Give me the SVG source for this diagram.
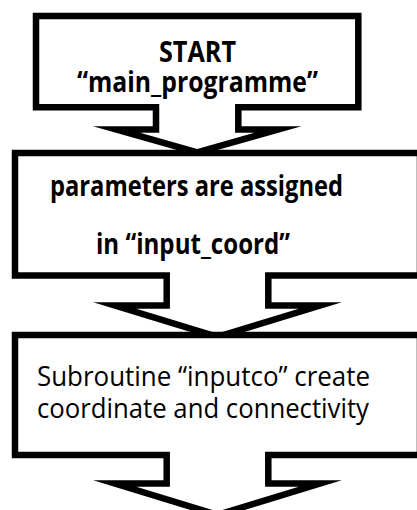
<svg xmlns="http://www.w3.org/2000/svg" width="417" height="510" viewBox="0 0 417 510">
  <style>
    .callout { fill: #ffffff; stroke: #000000; stroke-width: 6.5; stroke-linejoin: miter; stroke-miterlimit: 30; }
    .bold { font-family: "Open Sans", "Liberation Sans", sans-serif; font-weight: bold; font-size: 29px; fill: #000000; }
    .plain { font-family: "Open Sans", "Liberation Sans", sans-serif; font-size: 28px; fill: #000000; }
  </style>
  <rect width="417" height="510" fill="#ffffff"/>

  <!-- Down-arrow callout: start of the main programme -->
  <g id="start">
    <polygon class="callout" points="36,16 358.3,16 358.3,107.3 238.3,107.3 238.3,129.5 278.1,129.5 197.2,152.4 116.3,129.5 156,129.5 156,107.3 36,107.3"/>
    <text class="bold" x="197.5" y="62" text-anchor="middle" textLength="77" lengthAdjust="spacingAndGlyphs">START</text>
    <text class="bold" x="197.5" y="92" text-anchor="middle" textLength="241" lengthAdjust="spacingAndGlyphs">“main_programme”</text>
  </g>

  <!-- Down-arrow callout: parameter assignment -->
  <g id="input-coord">
    <polygon class="callout" points="15,153 420,153 420,275.5 268.3,275.5 268.3,305.5 320.1,305.5 217.5,336.9 114.9,305.5 166.7,305.5 166.7,275.5 15,275.5"/>
    <text class="bold" x="50" y="196" textLength="293" lengthAdjust="spacingAndGlyphs">parameters are assigned</text>
    <text class="bold" x="96" y="254" textLength="194" lengthAdjust="spacingAndGlyphs">in “input_coord”</text>
  </g>

  <!-- Down-arrow callout: inputco subroutine -->
  <g id="inputco">
    <polygon class="callout" points="15,335 420,335 420,455 268.3,455 268.3,483.5 320.1,483.5 217.5,514.9 114.9,483.5 166.7,483.5 166.7,455 15,455"/>
    <text class="plain" x="37" y="386" textLength="333" lengthAdjust="spacingAndGlyphs">Subroutine “inputco” create</text>
    <text class="plain" x="37" y="418" textLength="332" lengthAdjust="spacingAndGlyphs">coordinate and connectivity</text>
  </g>
</svg>
